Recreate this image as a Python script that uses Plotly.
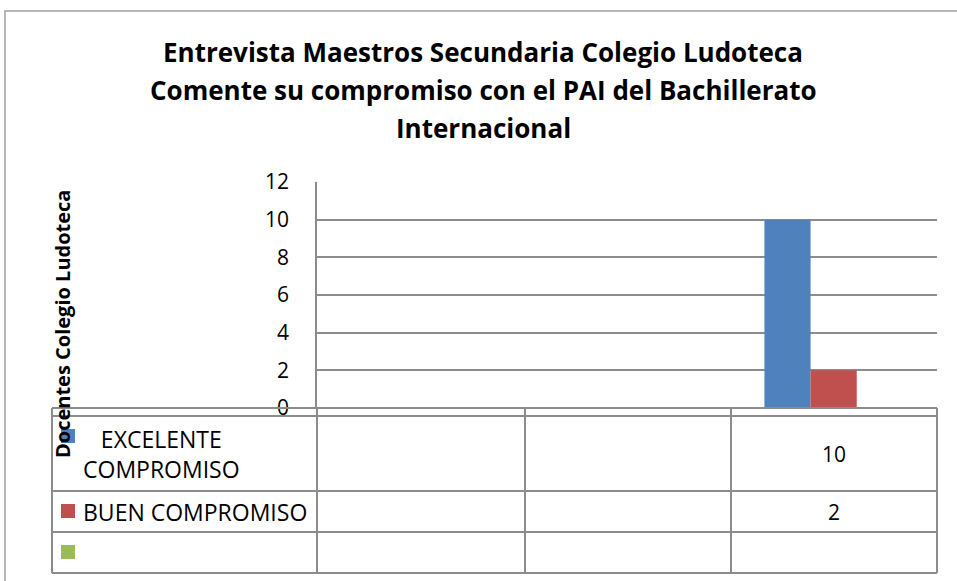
import plotly.graph_objects as go

# datos del gráfico (categorías sin nombre en el original)
categorias = ["", "", ""]
excelente = [None, None, 10]
buen = [None, None, 2]
tercera = [None, None, None]
series = ["EXCELENTE COMPROMISO", "BUEN COMPROMISO", ""]
etiquetas_tabla = ["EXCELENTE<br>COMPROMISO", "BUEN COMPROMISO", ""]
colores = ["#4F81BD", "#C0504D", "#9BBB59"]
ticks_y = [0, 2, 4, 6, 8, 10, 12]
titulo = ["Entrevista Maestros Secundaria Colegio Ludoteca",
          "Comente su compromiso con el PAI del Bachillerato",
          "Internacional"]

W, H = 957, 581
# área de trazado en píxeles
X0, X1, Y0, Y1 = 317, 937, 182, 408
L, T = X0, Y0
R, B = W - X1, H - Y1
pw, ph = X1 - X0, Y1 - Y0


def px_x(x):
    return (x - X0) / pw


def px_y(y):
    return (Y1 - y) / ph


FONT = "Open Sans"
GRIS = "#8C8C8C"

fig = go.Figure()
xs = list(range(len(categorias)))
for nombre, vals, col in zip(series, [excelente, buen, tercera], colores):
    fig.add_trace(go.Bar(x=xs, y=vals, name=nombre, marker_color=col,
                         marker_line_width=0, showlegend=False))

fig.update_layout(
    width=W, height=H,
    margin=dict(l=L, r=R, t=T, b=B),
    barmode="group", bargap=0.33, bargroupgap=0,
    plot_bgcolor="white", paper_bgcolor="white",
    font=dict(family=FONT, color="black"),
    xaxis=dict(range=[-0.5, len(categorias) - 0.5], showticklabels=False,
               showgrid=False, zeroline=False, showline=False, ticks=""),
    yaxis=dict(range=[0, 12], tickvals=ticks_y, showgrid=True, gridcolor=GRIS,
               gridwidth=1.5, zeroline=False, showline=True, linecolor=GRIS,
               linewidth=1.5, ticks="", tickfont=dict(size=21, family=FONT),
               ticklabelstandoff=22),
)

shapes = []
# marco exterior
shapes.append(dict(type="rect", xref="paper", yref="paper",
                   x0=px_x(5), x1=px_x(W + 10), y0=px_y(11), y1=px_y(H + 10),
                   line=dict(color="#A0A0A0", width=1.5)))
# tabla de datos
filas = [408, 416, 491, 532, 573]
cols_px = [52, 317, 525, 731, 937]
for y in filas:
    shapes.append(dict(type="line", xref="paper", yref="paper",
                       x0=px_x(52), x1=px_x(937), y0=px_y(y), y1=px_y(y),
                       line=dict(color=GRIS, width=2)))
for x in cols_px:
    shapes.append(dict(type="line", xref="paper", yref="paper",
                       x0=px_x(x), x1=px_x(x), y0=px_y(408), y1=px_y(573),
                       line=dict(color=GRIS, width=2)))
# cuadritos de leyenda en la tabla
centros_fila = [(416 + 491) / 2, (491 + 532) / 2, (532 + 573) / 2]
key_y = [436, 511, 552]
for ky, col in zip(key_y, colores):
    shapes.append(dict(type="rect", xref="paper", yref="paper",
                       x0=px_x(61), x1=px_x(75), y0=px_y(ky - 7), y1=px_y(ky + 7),
                       fillcolor=col, line=dict(width=0)))
fig.update_layout(shapes=shapes)

ann = []
for linea, ty in zip(titulo, [52, 90, 128]):
    ann.append(dict(text="<b>" + linea + "</b>",
                    xref="paper", yref="paper", x=px_x(483), y=px_y(ty),
                    xanchor="center", yanchor="middle", showarrow=False,
                    font=dict(size=26, family=FONT)))
ann.append(dict(text="<b>Docentes Colegio Ludoteca</b>", textangle=-90,
                xref="paper", yref="paper", x=px_x(62), y=px_y(324),
                xanchor="center", yanchor="middle", showarrow=False,
                font=dict(size=20, family=FONT)))
for etiqueta, cy in zip(etiquetas_tabla, centros_fila):
    if etiqueta:
        xc = 161 if "<br>" in etiqueta else 195
        ann.append(dict(text=etiqueta, xref="paper", yref="paper",
                        x=px_x(xc), y=px_y(cy), xanchor="center", yanchor="middle",
                        showarrow=False, align="center",
                        font=dict(size=23, family=FONT)))
for vals, cy in zip([excelente, buen, tercera], centros_fila):
    for i, v in enumerate(vals):
        if v is not None:
            ann.append(dict(text=str(v), xref="x", yref="paper", x=xs[i], y=px_y(cy),
                            xanchor="center", yanchor="middle", showarrow=False,
                            font=dict(size=21, family=FONT)))
fig.update_layout(annotations=ann)

# quitar el margen del body para que el marco izquierdo quede visible
fig.write_html("out.html", config={"displayModeBar": False},
               post_script="document.body.style.margin='0';")
